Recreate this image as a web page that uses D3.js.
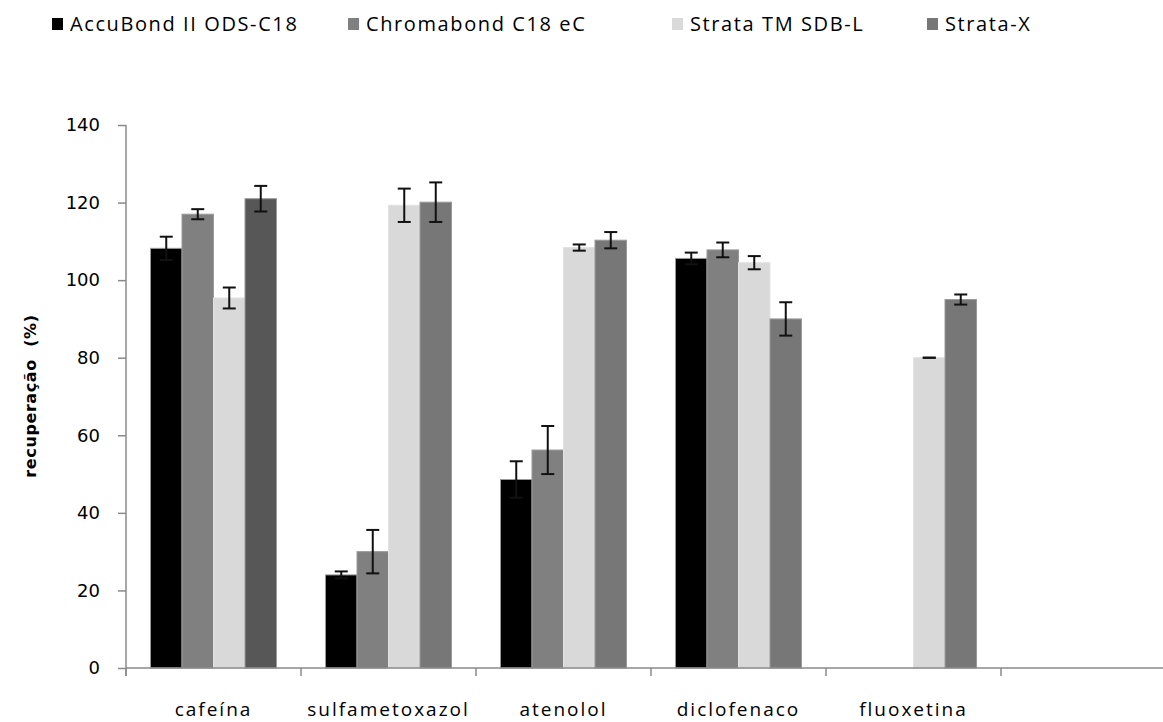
<!DOCTYPE html>
<html>
<head>
<meta charset="utf-8">
<script src="https://cdn.jsdelivr.net/npm/d3@7"></script>
<style>
  html, body { margin: 0; padding: 0; background: #fff; }
  svg { display: block; }
</style>
</head>
<body>
<svg id="chart" width="1163" height="722"></svg>
<script>
// Recovery (%) of each compound per SPE cartridge, with standard deviations
const categories = ["cafeína", "sulfametoxazol", "atenolol", "diclofenaco", "fluoxetina", ""];
const seriesNames = ["AccuBond II ODS-C18", "Chromabond C18 eC", "Strata TM SDB-L", "Strata-X"];

const accubond    = [108.2, 24.0, 48.6, 105.6, null];
const chromabond  = [117.0, 30.0, 56.2, 107.8, null];
const strataSDB   = [95.4, 119.3, 108.4, 104.5, 80.0];
const strataX     = [121.0, 120.1, 110.3, 90.0, 95.0];

const accubondErr   = [3.0, 0.9, 4.7, 1.5, null];
const chromabondErr = [1.3, 5.6, 6.2, 1.9, null];
const strataSDBErr  = [2.7, 4.3, 0.8, 1.7, 0.0];
const strataXErr    = [3.3, 5.1, 2.1, 4.3, 1.3];

const yTicks = [0, 20, 40, 60, 80, 100, 120, 140];

const seriesValues = [accubond, chromabond, strataSDB, strataX];
const seriesErrors = [accubondErr, chromabondErr, strataSDBErr, strataXErr];
const colors = ["#000000", "#808080", "#d9d9d9", "#777777"];

const svg = d3.select("#chart");
const axisColor = "#8a8a8a";
const labelFont = "Open Sans, sans-serif";

// Plot area
const x0Left = 126, bandW = 175;
const yTop = 125, yBottom = 668;

const x0 = d3.scaleBand()
  .domain(categories)
  .range([x0Left, x0Left + bandW * categories.length])
  .paddingInner(0).paddingOuter(0);

const x1 = d3.scaleBand()
  .domain(seriesNames)
  .range([24.5, bandW - 24.5])
  .paddingInner(0);

const y = d3.scaleLinear().domain([0, 140]).range([yBottom, yTop]);

// Build flat record list
const records = [];
categories.forEach((c, ci) => {
  seriesNames.forEach((s, si) => {
    const v = seriesValues[si][ci];
    if (v === null || v === undefined) return;
    records.push({ cat: c, ci, series: s, si, value: v, err: seriesErrors[si][ci] });
  });
});

// Bars
function barFill(d) {
  // the caffeine Strata-X column is drawn in a darker grey
  if (d.si === 3 && d.ci === 0) return "#575757";
  return colors[d.si];
}

svg.append("g").selectAll("rect")
  .data(records)
  .join("rect")
  .attr("x", d => x0(d.cat) + x1(d.series))
  .attr("y", d => y(d.value))
  .attr("width", x1.bandwidth())
  .attr("height", d => y(0) - y(d.value))
  .attr("fill", barFill)
  .attr("stroke", d => d.si === 2 ? "#e2e2e2" : "#9a9a9a")
  .attr("stroke-width", 1);

// Error bars
const errG = svg.append("g").attr("stroke", "#111").attr("stroke-width", 2);
const capHalf = 6.5;
records.forEach(d => {
  const cx = x0(d.cat) + x1(d.series) + x1.bandwidth() / 2;
  const hi = y(d.value + d.err), lo = y(d.value - d.err);
  errG.append("line").attr("x1", cx).attr("x2", cx).attr("y1", hi).attr("y2", lo);
  errG.append("line").attr("x1", cx - capHalf).attr("x2", cx + capHalf).attr("y1", hi).attr("y2", hi);
  errG.append("line").attr("x1", cx - capHalf).attr("x2", cx + capHalf).attr("y1", lo).attr("y2", lo);
});

// Y axis
const yAxis = d3.axisLeft(y).tickValues(yTicks).tickSize(8).tickPadding(18);
const gy = svg.append("g").attr("transform", `translate(${x0Left},0)`).call(yAxis);
gy.select(".domain").attr("stroke", axisColor).attr("stroke-width", 1.5)
  .attr("d", `M0,${yTop}V${yBottom + 8}`);
gy.selectAll(".tick line").attr("stroke", axisColor).attr("stroke-width", 1.5);
gy.selectAll(".tick text")
  .attr("font-family", "DejaVu Sans, Verdana, sans-serif")
  .attr("font-size", 18)
  .attr("fill", "#000");

// X axis: category boundary ticks below the baseline
const gx = svg.append("g").attr("transform", `translate(0,${yBottom})`);
gx.append("line")
  .attr("x1", x0Left).attr("x2", x0Left + bandW * categories.length)
  .attr("stroke", axisColor).attr("stroke-width", 1.5);
const bounds = categories.map(c => x0(c)).concat([x0Left + bandW * categories.length]);
gx.selectAll("line.bound")
  .data(bounds)
  .join("line")
  .attr("class", "bound")
  .attr("x1", d => d).attr("x2", d => d)
  .attr("y1", 0).attr("y2", 8)
  .attr("stroke", axisColor).attr("stroke-width", 1.5);
gx.selectAll("text")
  .data(categories)
  .join("text")
  .attr("x", d => x0(d) + bandW / 2)
  .attr("y", 48)
  .attr("text-anchor", "middle")
  .attr("font-family", labelFont)
  .attr("font-size", 19)
  .attr("letter-spacing", 2)
  .attr("fill", "#000")
  .text(d => d);

// Y axis title
svg.append("text")
  .attr("transform", "translate(36,396) rotate(-90)")
  .attr("text-anchor", "middle")
  .attr("font-family", "DejaVu Sans, Verdana, sans-serif")
  .attr("font-weight", "bold")
  .attr("font-size", 16)
  .attr("letter-spacing", 0.6)
  .attr("fill", "#000")
  .attr("xml:space", "preserve")
  .style("white-space", "pre")
  .text("recuperação  (%)");

// Legend
const legendX = [52, 348, 672, 927];
const legend = svg.append("g");
seriesNames.forEach((s, i) => {
  const g = legend.append("g").attr("transform", `translate(${legendX[i]},18)`);
  g.append("rect").attr("width", 11).attr("height", 12).attr("fill", colors[i]);
  g.append("text")
    .attr("x", 18).attr("y", 13)
    .attr("font-family", labelFont)
    .attr("font-size", 20)
    .attr("letter-spacing", 1.6)
    .attr("fill", "#000")
    .text(s);
});
</script>
</body>
</html>
